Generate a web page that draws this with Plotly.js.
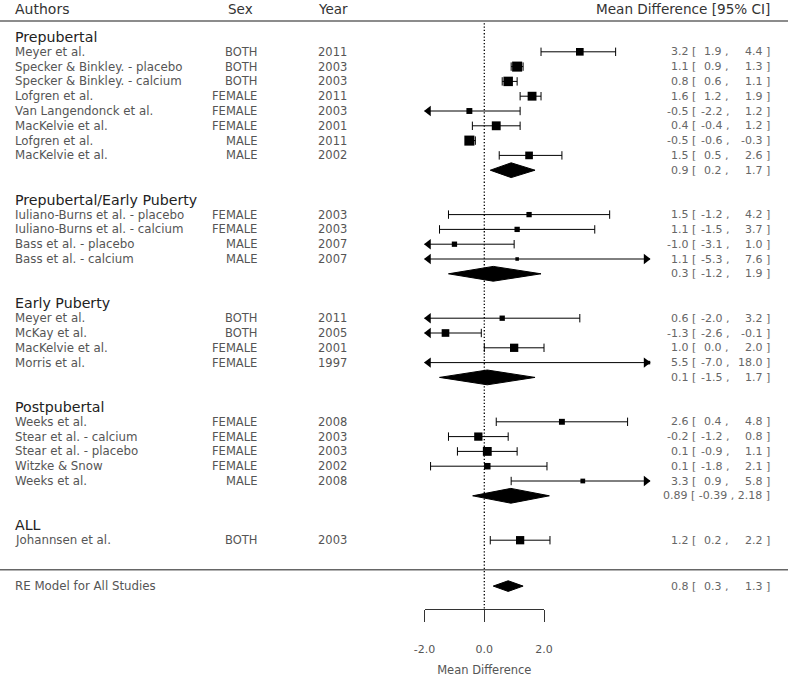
<!DOCTYPE html>
<html>
<head>
<meta charset="utf-8">
<script src="https://cdn.plot.ly/plotly-3.0.1.min.js"></script>
<style>
  html, body { margin: 0; padding: 0; background: #fff; }
  #plot { width: 788px; height: 678px; }
</style>
</head>
<body>
<div id="plot"></div>
<script>
// subgroups, in order, and how many studies each holds
const groupNames = ["Prepubertal", "Prepubertal/Early Puberty", "Early Puberty", "Postpubertal", "ALL"];
const groupSize = [8, 4, 4, 5, 1];
const groupEst = [0.9, 0.3, 0.1, 0.89, null];
const groupLo = [0.2, -1.2, -1.5, -0.39, null];
const groupHi = [1.7, 1.9, 1.7, 2.18, null];

// individual studies
const authors = [
  "Meyer et al.", "Specker & Binkley. - placebo", "Specker & Binkley. - calcium", "Lofgren et al.",
  "Van Langendonck et al.", "MacKelvie et al.", "Lofgren et al.", "MacKelvie et al.",
  "Iuliano-Burns et al. - placebo", "Iuliano-Burns et al. - calcium", "Bass et al. - placebo", "Bass et al. - calcium",
  "Meyer et al.", "McKay et al.", "MacKelvie et al.", "Morris et al.",
  "Weeks et al.", "Stear et al. - calcium", "Stear et al. - placebo", "Witzke & Snow", "Weeks et al.",
  "Johannsen et al."
];
const sex = [
  "BOTH", "BOTH", "BOTH", "FEMALE", "FEMALE", "FEMALE", "MALE", "MALE",
  "FEMALE", "FEMALE", "MALE", "MALE",
  "BOTH", "BOTH", "FEMALE", "FEMALE",
  "FEMALE", "FEMALE", "FEMALE", "FEMALE", "MALE",
  "BOTH"
];
const years = [
  2011, 2003, 2003, 2011, 2003, 2001, 2011, 2002,
  2003, 2003, 2007, 2007,
  2011, 2005, 2001, 1997,
  2008, 2003, 2003, 2002, 2008,
  2003
];
const est = [3.2, 1.1, 0.8, 1.6, -0.5, 0.4, -0.5, 1.5, 1.5, 1.1, -1.0, 1.1, 0.6, -1.3, 1.0, 5.5, 2.6, -0.2, 0.1, 0.1, 3.3, 1.2];
const lo = [1.9, 0.9, 0.6, 1.2, -2.2, -0.4, -0.6, 0.5, -1.2, -1.5, -3.1, -5.3, -2.0, -2.6, 0.0, -7.0, 0.4, -1.2, -0.9, -1.8, 0.9, 0.2];
const hi = [4.4, 1.3, 1.1, 1.9, 1.2, 1.2, -0.3, 2.6, 4.2, 3.7, 1.0, 7.6, 3.2, -0.1, 2.0, 18.0, 4.8, 0.8, 1.1, 2.1, 5.8, 2.2];
// relative weights (%), estimated from the square sizes
const weights = [4.2, 7.2, 6.4, 5.6, 2.5, 5.6, 7.2, 4.2, 2.0, 2.0, 2.0, 0.9, 2.0, 4.2, 4.9, 0.9, 2.5, 4.9, 5.6, 3.0, 1.6, 4.9];

// overall random-effects model
const reLabel = "RE Model for All Studies";
const reEst = 0.8, reLo = 0.3, reHi = 1.3;

// axis
const tickVals = [-2, 0, 2];
const tickText = ["-2.0", "0.0", "2.0"];

// ---- page geometry ----
const W = 788, H = 678;
const X0 = 484.3, PX = 29.85;      // pixel of x = 0, pixels per unit
const ROW0 = 37, ROWH = 14.8;      // pixel of first row, row height
const CLIP_LO = -2, CLIP_HI = 5.55;
const px2x = (p) => (p - X0) / PX;
const FONT = "DejaVu Sans, Arial, sans-serif";

const twoDec = (v) => Math.abs(Math.round(v * 10) - v * 10) > 1e-6;
const fmt = (v, d) => v.toFixed(d);

// work out row numbers
const headerRow = [], studyRow = [], summaryRow = [];
let r = 0;
groupNames.forEach((g, gi) => {
  headerRow.push(r);
  for (let j = 0; j < groupSize[gi]; j++) studyRow.push(r + 1 + j);
  r += groupSize[gi] + 1;
  if (groupEst[gi] !== null) { summaryRow.push(r); r += 1; } else summaryRow.push(null);
  r += 1;
});
const lineRow = r;          // separator above RE model
const reRow = r + 1.1;
const headRow = (9 - ROW0) / ROWH;
const headLineRow = (21 - ROW0) / ROWH;
const axisPx = 609;
const axisRow = (axisPx - ROW0) / ROWH;

const annotations = [];
function txt(xpx, row, text, anchor, size, color) {
  annotations.push({
    x: px2x(xpx), y: row, xref: "x", yref: "y", text: text, showarrow: false,
    xanchor: anchor, yanchor: "middle", font: { family: FONT, size: size, color: color },
  });
}
function ciText(row, e, l, h) {
  if ([e, l, h].some(twoDec)) {
    // two-decimal rows are printed as one string
    txt(772, row, `${fmt(e, 2)} [ ${fmt(l, 2)} , ${fmt(h, 2)} ]`, "right", 11, "#666");
    return;
  }
  txt(698, row, fmt(e, 1) + " [", "right", 11, "#666");
  txt(731, row, fmt(l, 1) + " ,", "right", 11, "#666");
  txt(772, row, fmt(h, 1) + " ]", "right", 11, "#666");
}

// header
txt(13, headRow, "Authors", "left", 14, "#333");
txt(226, headRow, "Sex", "left", 13.5, "#333");
txt(316, headRow, "Year", "left", 13.5, "#333");
txt(772, headRow, "Mean Difference [95% CI]", "right", 13.6, "#333");

groupNames.forEach((g, gi) => txt(13, headerRow[gi], g, "left", 14.2, "#222"));

// study lines, caps, arrows
const ciX = [], ciY = [], capX = [], capY = [];
const arrL = { x: [], y: [] }, arrR = { x: [], y: [] };
authors.forEach((a, i) => {
  const row = studyRow[i];
  txt(13, row, a, "left", 11.8, "#555");
  txt(258.5, row, sex[i], "right", 11.5, "#555");
  txt(316, row, String(years[i]), "left", 11.5, "#555");
  ciText(row, est[i], lo[i], hi[i]);

  const a0 = Math.max(lo[i], CLIP_LO), a1 = Math.min(hi[i], CLIP_HI);
  ciX.push(a0, a1, null); ciY.push(row, row, null);
  if (lo[i] <= CLIP_LO) { arrL.x.push(CLIP_LO + 0.13); arrL.y.push(row); }
  else { capX.push(lo[i]); capY.push(row); }
  if (hi[i] > CLIP_HI) { arrR.x.push(CLIP_HI - 0.13); arrR.y.push(row); }
  else { capX.push(hi[i]); capY.push(row); }
});

const traces = [
  { x: ciX, y: ciY, type: "scatter", mode: "lines", line: { color: "#000", width: 1 }, hoverinfo: "skip" },
  { x: capX, y: capY, type: "scatter", mode: "markers", hoverinfo: "skip",
    marker: { symbol: "line-ns", size: 6, line: { color: "#000", width: 1 } } },
  { x: arrL.x, y: arrL.y, type: "scatter", mode: "markers", hoverinfo: "skip",
    marker: { symbol: "triangle-left", size: 9, color: "#000" } },
  { x: arrR.x, y: arrR.y, type: "scatter", mode: "markers", hoverinfo: "skip",
    marker: { symbol: "triangle-right", size: 9, color: "#000" } },
  { x: est, y: studyRow, type: "scatter", mode: "markers", hoverinfo: "skip",
    marker: { symbol: "square", size: weights.map((w) => Math.sqrt(w * 14)), color: "#000", opacity: 1, line: { width: 0 } } },
];

// subgroup diamonds
function diamond(row, e, l, h, half) {
  traces.push({
    x: [l, e, h, e, l], y: [row, row - half, row, row + half, row],
    type: "scatter", mode: "lines", fill: "toself", fillcolor: "#000",
    line: { color: "#000", width: 1 }, hoverinfo: "skip",
  });
}
groupNames.forEach((g, gi) => {
  if (groupEst[gi] === null) return;
  diamond(summaryRow[gi], groupEst[gi], groupLo[gi], groupHi[gi], 0.5);
  ciText(summaryRow[gi], groupEst[gi], groupLo[gi], groupHi[gi]);
});

// overall model
txt(13, reRow, reLabel, "left", 11.8, "#555");
diamond(reRow, reEst, reLo, reHi, 0.36);
ciText(reRow, reEst, reLo, reHi);

// dotted reference line on the visible axis
traces.push({
  x: [0, 0], y: [headLineRow + 0.15, axisRow], xaxis: "x2", yaxis: "y",
  type: "scatter", mode: "lines", line: { color: "#000", width: 1.3, dash: "1.3px,2px" }, hoverinfo: "skip",
});

const layout = {
  width: W, height: H,
  margin: { l: 0, r: 0, t: 0, b: 0 },
  showlegend: false,
  paper_bgcolor: "#fff", plot_bgcolor: "rgba(0,0,0,0)",
  xaxis: { range: [px2x(0), px2x(W)], visible: false, fixedrange: true },
  yaxis: { range: [(H - ROW0) / ROWH, -ROW0 / ROWH], visible: false, fixedrange: true },
  xaxis2: {
    domain: [(X0 - 2 * PX) / W, (X0 + 2 * PX) / W], range: [-2, 2],
    anchor: "free", position: 1 - axisPx / H, side: "bottom",
    showline: true, linecolor: "#333", linewidth: 1,
    ticks: "outside", ticklen: 12, tickcolor: "#333", tickwidth: 1,
    tickvals: tickVals, ticktext: tickText, ticklabelstandoff: 18,
    tickfont: { family: FONT, size: 11, color: "#555" },
    showgrid: false, zeroline: false, fixedrange: true,
    title: { text: "Mean Difference", standoff: 10, font: { family: FONT, size: 11.5, color: "#555" } },
  },
  shapes: [headLineRow, lineRow].map((yy) => ({
    type: "line", xref: "paper", x0: 0, x1: 1, yref: "y", y0: yy, y1: yy,
    line: { color: "#666", width: 1.5 },
  })),
  annotations: annotations,
};

Plotly.newPlot("plot", traces, layout, { displayModeBar: false, staticPlot: true });
</script>
</body>
</html>
